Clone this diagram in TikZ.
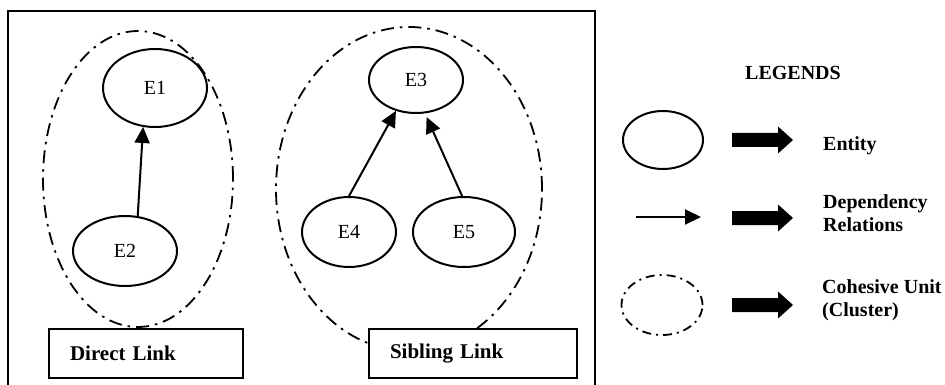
\documentclass[tikz,border=0pt]{standalone}
\usepackage{fontspec}
\setmainfont{Liberation Serif}
\usetikzlibrary{arrows.meta,shapes.geometric}
\tikzset{entity/.style={draw,ellipse,line width=2pt,inner sep=0pt,font=\fontsize{20}{24}\selectfont},
cluster/.style={draw,ellipse,line width=1.8pt,dash pattern=on 13pt off 6pt on 2.5pt off 6pt,inner sep=0pt},
dep/.style={line width=2pt,-{Triangle[length=16pt,width=15pt]}},
linkbox/.style={draw,rectangle,line width=2pt,minimum height=49pt,inner xsep=21pt,align=left,font=\fontsize{21}{24}\selectfont\bfseries},
legtext/.style={anchor=west,align=left,inner sep=0pt,font=\fontsize{20}{23}\selectfont\bfseries}}
\begin{document}
\begin{tikzpicture}[x=1pt,y=-1pt]
\useasboundingbox(0,0)rectangle(945,385);
\draw[line width=2pt](8,386)--(8,11)--(595,11)--(595,386);
\node[cluster,minimum width=190pt,minimum height=296pt](c1)at(138,179){};
\node[cluster,minimum width=266pt,minimum height=324pt](c2)at(409,189){};
\node[entity,minimum width=104pt,minimum height=78pt](e1)at(155,88){E1};\node[entity,minimum width=104pt,minimum height=70pt](e2)at(125,251){E2};
\node[entity,minimum width=94pt,minimum height=66pt](e3)at(416,80){E3};\node[entity,minimum width=94pt,minimum height=70pt](e4)at(349,232){E4};\node[entity,minimum width=102pt,minimum height=70pt](e5)at(464,232){E5};
\draw[dep](e2.70)--(e1.253);\draw[dep](e4.90)--(e3.237);\draw[dep,shorten >=4pt](e5.93)--(e3.285);
\node[linkbox,fill=white,text width=152pt](dl)at(146,353.5){Direct Link};
\node[linkbox,fill=white,text width=166pt](sl)at(473,353.5){Sibling Link};
\node[font=\fontsize{20}{24}\selectfont\bfseries](leg)at(793,73){LEGENDS};
\node[entity,minimum width=80pt,minimum height=58pt](le)at(663,140){};
\coordinate(ds)at(636,217);\coordinate(de)at(701,217);\draw[line width=2pt,-{Triangle[length=16pt,width=15pt]}](ds)--(de);
\node[cluster,dash pattern=on 9pt off 5pt on 2pt off 5pt,minimum width=81pt,minimum height=60pt](lc)at(662,305){};
\foreach \y in {140,218,305}\fill(732,\y-7)--(778,\y-7)--(778,\y-13.5)--(793,\y)--(778,\y+13.5)--(778,\y+7)--(732,\y+7)--cycle;
\node[legtext](t1)at(823,146){Entity};\node[legtext](t2)at(823,213){Dependency\\Relations};\node[legtext](t3)at(822,300){Cohesive Unit\\(Cluster)};
\end{tikzpicture}
\end{document}
